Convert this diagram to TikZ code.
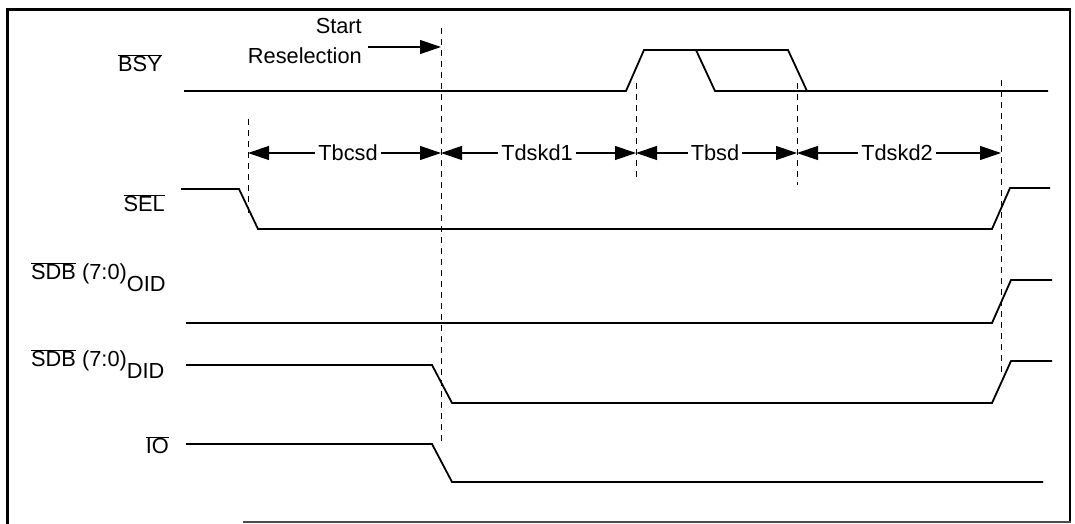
\documentclass[tikz,border=0pt]{standalone}
\usepackage{fontspec}
\setmainfont{Liberation Sans}
\usetikzlibrary{arrows.meta}
\begin{document}
\begin{tikzpicture}[x=1pt,y=-1pt,
  sig/.style={line width=1.8pt,line join=miter},
  guide/.style={line width=0.9pt,dash pattern=on 6pt off 5pt},
  lbl/.style={font=\fontsize{21.8}{24}\selectfont,inner sep=0pt},
  dimtxt/.style={font=\fontsize{21.8}{24}\selectfont,inner sep=3pt,fill=white},
  dimarrow/.style={line width=1.2pt,-{Triangle[length=21pt,width=14pt]}},
  frame/.style={line width=3pt}]
\useasboundingbox (0,0) rectangle (1075,524);
% frame
\draw[frame] (1070,9.5) -- (7,9.5) -- (7,524);
\draw[line width=2.5pt] (1070,8) -- (1070,522);
\draw[line width=1.5pt,black!70] (243,522) -- (1071,522);
% guide coordinates
\coordinate (g1t) at (248,119); \coordinate (g1b) at (248,213);
\coordinate (g2t) at (441,28);  \coordinate (g2b) at (441,442);
\coordinate (g3t) at (636,83);  \coordinate (g3b) at (636,177);
\coordinate (g4t) at (797,83);  \coordinate (g4b) at (797,185);
\coordinate (g5t) at (1001,80); \coordinate (g5b) at (1001,372);
\foreach \g in {1,...,5} \draw[guide] (g\g t) -- (g\g b);
% signal labels
\node[lbl,anchor=east] (lbsy) at (162,63) {$\overline{\hbox{BSY}}$};
\node[lbl,anchor=east] (lsel) at (165,203) {$\overline{\hbox{SEL}}$};
\node[lbl,anchor=west] (loid) at (31,277) {$\overline{\hbox{SDB}}$ (7:0)\raisebox{-12pt}{OID}};
\node[lbl,anchor=west] (ldid) at (31,364) {$\overline{\hbox{SDB}}$ (7:0)\raisebox{-12pt}{DID}};
\node[lbl,anchor=east] (lio) at (169,445) {$\overline{\hbox{IO}}$};
% signals
\draw[sig] (184,91) -- (626,91) -- (644,50) -- (788,50) -- (807,91) -- (1048,91);
\draw[sig] (696,50) -- (715,91) -- (807,91);
\draw[sig] (181,189) -- (239,189) -- (258,229) -- (992,229) -- (1010,188) -- (1050,188);
\draw[sig] (186,323) -- (992,323) -- (1011,280) -- (1052,280);
\draw[sig] (186,365) -- (432,365) -- (452,403) -- (992,403) -- (1011,361) -- (1052,361);
\draw[sig] (186,444) -- (432,444) -- (452,482) -- (1043,482);
% start reselection
\node[lbl,anchor=east] (start) at (362,26) {Start};
\node[lbl,anchor=east] (resel) at (362,56) {Reselection};
\coordinate (sa) at (368,47);
\coordinate (sb) at (441,47);
\draw[dimarrow] (sa) -- (sb);
% dimension labels
\coordinate (a1) at (248,153); \coordinate (a2) at (441,153);
\coordinate (a3) at (636,153); \coordinate (a4) at (797,153);
\coordinate (a5) at (1001,153);
\node[dimtxt] (tbcsd) at (348,153) {Tbcsd};
\node[dimtxt] (tdskd1) at (537,153) {Tdskd1};
\node[dimtxt] (tbsd) at (715,153) {Tbsd};
\node[dimtxt] (tdskd2) at (897,153) {Tdskd2};
\draw[dimarrow] (tbcsd.west) -- (a1);
\draw[dimarrow] (tbcsd.east) -- (a2);
\draw[dimarrow] (tdskd1.west) -- (a2);
\draw[dimarrow] (tdskd1.east) -- (a3);
\draw[dimarrow] (tbsd.west) -- (a3);
\draw[dimarrow] (tbsd.east) -- (a4);
\draw[dimarrow] (tdskd2.west) -- (a4);
\draw[dimarrow] (tdskd2.east) -- (a5);
\end{tikzpicture}
\end{document}
